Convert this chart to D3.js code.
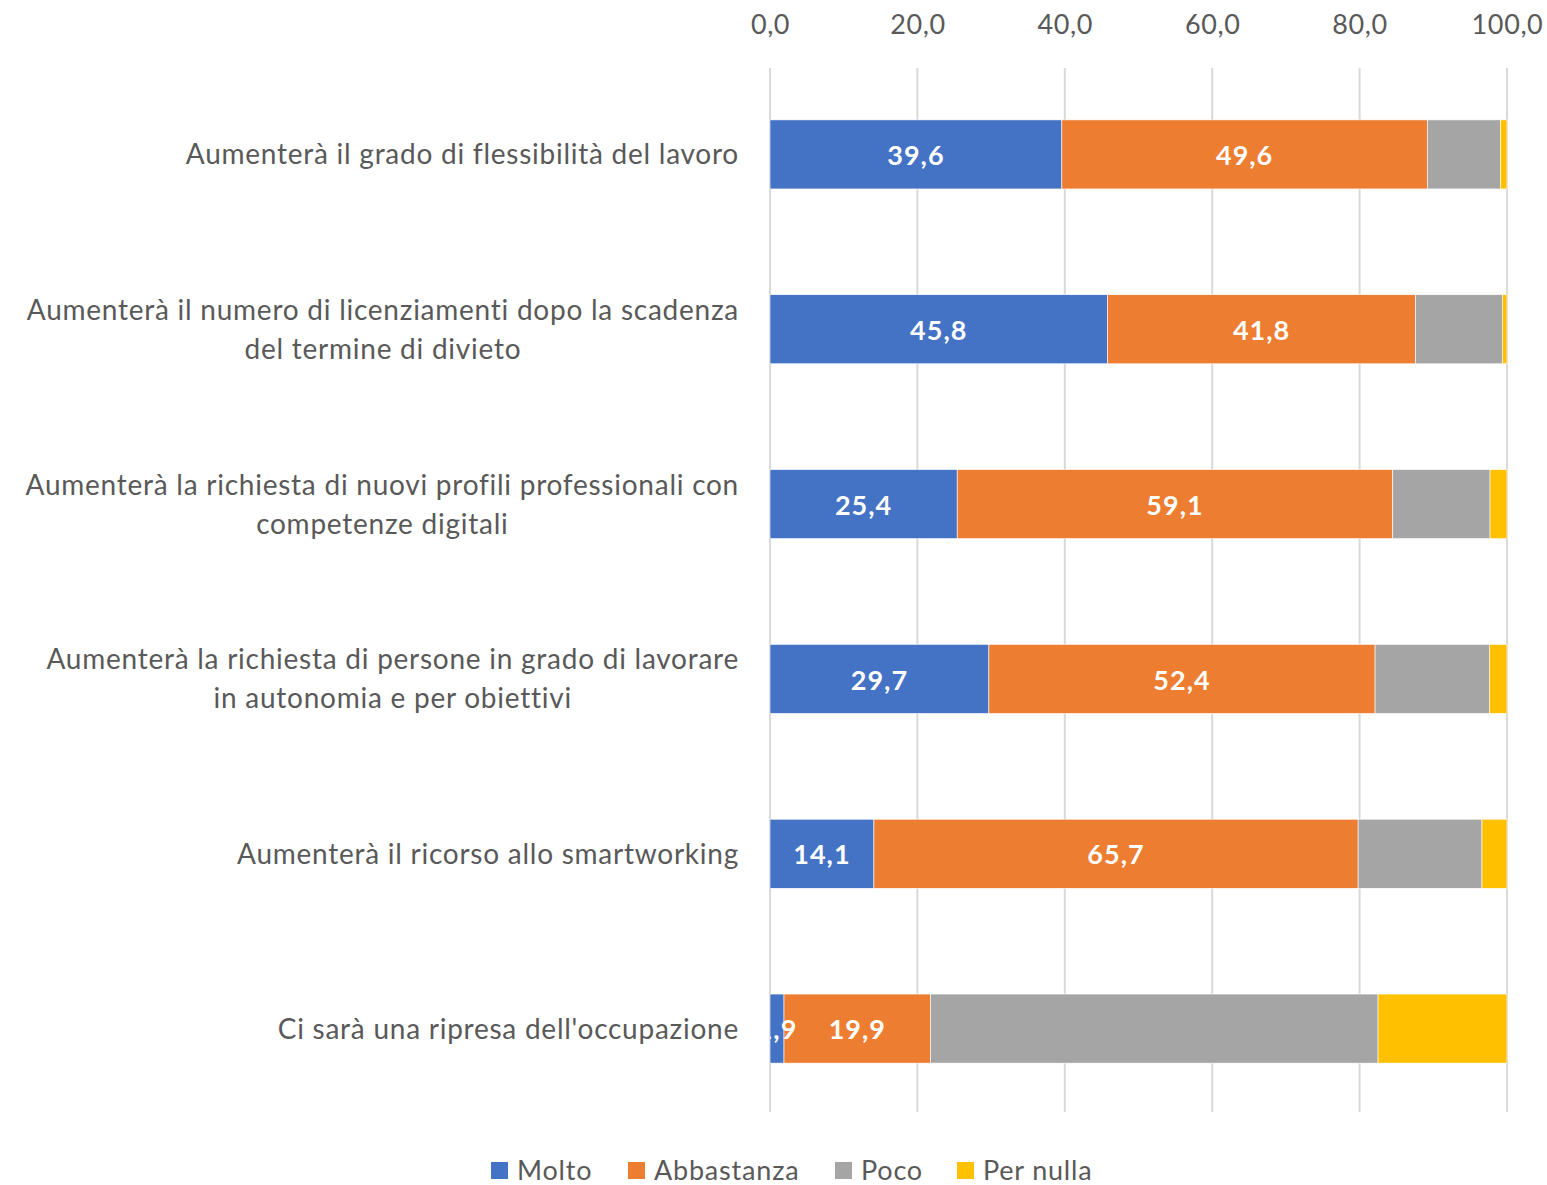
<!DOCTYPE html>
<html>
<head>
<meta charset="utf-8">
<script src="https://cdn.jsdelivr.net/npm/d3@7"></script>
<style>
  html, body { margin: 0; padding: 0; background: #fff; }
  svg { display: block; font-family: Lato, "Open Sans", sans-serif; }
</style>
</head>
<body>
<svg id="chart" width="1547" height="1185"></svg>
<script>
// Survey statements (top to bottom) and the share of answers per level, in %
const categories = [
  "Aumenterà il grado di flessibilità del lavoro",
  "Aumenterà il numero di licenziamenti dopo la scadenza del termine di divieto",
  "Aumenterà la richiesta di nuovi profili professionali con competenze digitali",
  "Aumenterà la richiesta di persone in grado di lavorare in autonomia e per obiettivi",
  "Aumenterà il ricorso allo smartworking",
  "Ci sarà una ripresa dell'occupazione"
];
// Wrapped lines of each statement as they are printed beside the bars
const categoryLines = [
  ["Aumenterà il grado di flessibilità del lavoro"],
  ["Aumenterà il numero di licenziamenti dopo la scadenza", "del termine di divieto"],
  ["Aumenterà la richiesta di nuovi profili professionali con", "competenze digitali"],
  ["Aumenterà la richiesta di persone in grado di lavorare", "in autonomia e per obiettivi"],
  ["Aumenterà il ricorso allo smartworking"],
  ["Ci sarà una ripresa dell'occupazione"]
];
const seriesNames = ["Molto", "Abbastanza", "Poco", "Per nulla"];
const molto      = [39.6, 45.8, 25.4, 29.7, 14.1, 1.9];
const abbastanza = [49.6, 41.8, 59.1, 52.4, 65.7, 19.9];
const poco       = [9.9, 11.8, 13.2, 15.5, 16.8, 60.7];
const perNulla   = [0.9, 0.6, 2.3, 2.4, 3.4, 17.5];
const labelledSeries = ["Molto", "Abbastanza"];
const tickValues = [0, 20, 40, 60, 80, 100];
const colors = ["#4472C4", "#ED7D31", "#A5A5A5", "#FFC000"];

const svg = d3.select("#chart");
const plot = { left: 770, right: 1507, top: 67, bottom: 1116 };

const rows = categories.map((c, i) => ({
  category: c,
  Molto: molto[i],
  Abbastanza: abbastanza[i],
  Poco: poco[i],
  "Per nulla": perNulla[i]
}));
const stacked = d3.stack().keys(seriesNames)(rows);

const x = d3.scaleLinear().domain([0, 100]).range([plot.left, plot.right]);
const y = d3.scaleBand().domain(categories).range([plot.top, plot.bottom]).paddingInner(0.605).paddingOuter(0.3025);
const color = d3.scaleOrdinal().domain(seriesNames).range(colors);
const fmt = v => d3.format(".1f")(v).replace(".", ",");

// Vertical gridlines
svg.append("g")
  .selectAll("line")
  .data(tickValues)
  .join("line")
  .attr("x1", d => x(d)).attr("x2", d => x(d))
  .attr("y1", 68).attr("y2", 1112)
  .attr("stroke", "#d9d9d9")
  .attr("stroke-width", 2);

// Value axis on top
const axis = svg.append("g")
  .attr("transform", `translate(0, 34)`)
  .call(d3.axisTop(x).tickValues(tickValues).tickFormat(fmt).tickSize(0).tickPadding(0));
axis.select(".domain").remove();
axis.selectAll("text")
  .attr("font-family", "Lato, 'Open Sans', sans-serif")
  .attr("font-size", 27)
  .attr("letter-spacing", 0.6)
  .attr("fill", "#595959");

// Stacked bars
svg.append("clipPath").attr("id", "plotClip")
  .append("rect").attr("x", plot.left).attr("y", plot.top)
  .attr("width", plot.right - plot.left).attr("height", plot.bottom - plot.top);

const layers = svg.append("g").selectAll("g")
  .data(stacked)
  .join("g")
  .attr("fill", d => color(d.key));
layers.selectAll("rect")
  .data(d => d)
  .join("rect")
  .attr("x", d => x(d[0]))
  .attr("y", d => y(d.data.category))
  .attr("width", d => x(d[1]) - x(d[0]))
  .attr("height", y.bandwidth())
  .attr("stroke", "#ffffff")
  .attr("stroke-width", 0.6);

// Value labels for the first two series
const labelGroup = svg.append("g").attr("clip-path", "url(#plotClip)");
stacked.filter(s => labelledSeries.includes(s.key)).forEach(s => {
  labelGroup.append("g").selectAll("text")
    .data(s)
    .join("text")
    .attr("x", d => (x(d[0]) + x(d[1])) / 2)
    .attr("y", d => y(d.data.category) + y.bandwidth() / 2 + 1)
    .attr("dy", "0.36em")
    .attr("text-anchor", "middle")
    .attr("font-size", 27)
    .attr("font-weight", "bold")
    .attr("letter-spacing", 1)
    .attr("fill", "#ffffff")
    .text(d => fmt(d[1] - d[0]));
});

// Category labels: wrapped lines centred on each other, block right-aligned
const lineHeight = 39;
const catGroup = svg.append("g");
categories.forEach((c, i) => {
  const lines = categoryLines[i];
  const g = catGroup.append("g");
  const texts = g.selectAll("text")
    .data(lines)
    .join("text")
    .attr("font-size", 28)
    .attr("letter-spacing", 0.75)
    .attr("fill", "#595959")
    .attr("text-anchor", "middle")
    .text(d => d);
  const widths = [];
  texts.each(function () { widths.push(this.getComputedTextLength()); });
  const blockW = d3.max(widths);
  const cx = 739 - blockW / 2;
  const cy = y(c) + y.bandwidth() / 2;
  texts
    .attr("x", cx)
    .attr("y", (d, j) => cy + (j - (lines.length - 1) / 2) * lineHeight)
    .attr("dy", "0.36em");
});

// Legend
const legendItems = [
  { key: "Molto", x: 491 },
  { key: "Abbastanza", x: 628 },
  { key: "Poco", x: 835 },
  { key: "Per nulla", x: 957 }
];
const legend = svg.append("g").selectAll("g")
  .data(legendItems)
  .join("g")
  .attr("transform", d => `translate(${d.x}, 1162)`);
legend.append("rect")
  .attr("width", 17).attr("height", 17)
  .attr("fill", d => color(d.key));
legend.append("text")
  .attr("x", 26).attr("y", 8.5).attr("dy", "0.36em")
  .attr("font-size", 27)
  .attr("letter-spacing", 0.8)
  .attr("fill", "#595959")
  .text(d => d.key);
</script>
</body>
</html>
